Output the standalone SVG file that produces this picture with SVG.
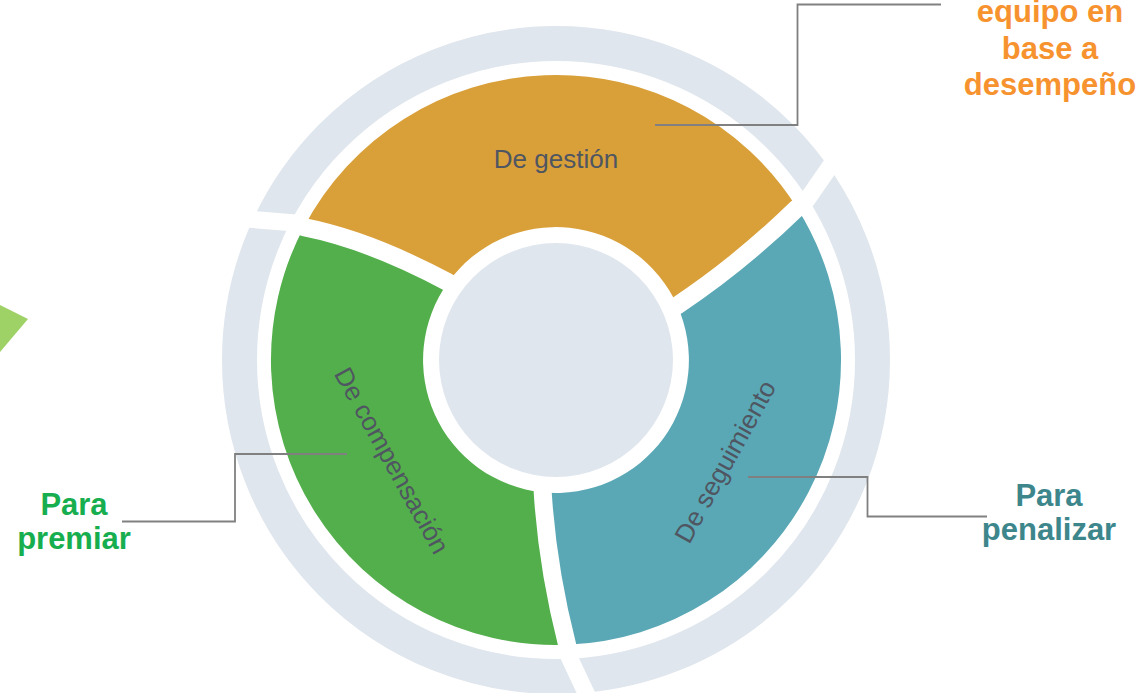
<svg xmlns="http://www.w3.org/2000/svg" xmlns:xlink="http://www.w3.org/1999/xlink" width="1136" height="693" viewBox="0 0 1136 693">
  <style>
    .segtxt { font-family: "Liberation Sans", Arial, sans-serif; font-size: 26px; fill: #4F5661; text-anchor: middle; }
    .lbl { font-family: "Liberation Sans", Arial, sans-serif; font-size: 31px; font-weight: bold; text-anchor: middle; }
    .conn { fill: none; stroke: #808080; stroke-width: 1.8; }
    .gap { fill: none; stroke: #FFFFFF; stroke-width: 18; stroke-linecap: round; }
    .rgap { fill: none; stroke: #FFFFFF; stroke-width: 17; stroke-linecap: butt; }
  </style>
  <defs>
    <line id="ringgap" x1="567.9" y1="654.5" x2="589.4" y2="700.2"/>
  </defs>
  <rect width="1136" height="693" fill="#FFFFFF"/>

  <g id="partial-shape">
    <path d="M0,305 L28,319 L0,352 Z" fill="#9FD266"/>
  </g>

  <g id="outer-ring">
    <circle cx="556" cy="360" r="316.5" fill="none" stroke="#DFE6ED" stroke-width="35"/>
    <use xlink:href="#ringgap" class="rgap"/>
    <use xlink:href="#ringgap" class="rgap" transform="rotate(120 556 360)"/>
    <use xlink:href="#ringgap" class="rgap" transform="rotate(240 556 360)"/>
  </g>

  <g id="seg-gestion">
    <path d="M303.8,227.2 A285,285 0 0 1 797.1,208 Q739.8,263.8 677.2,305.4 A133,133 0 0 0 448.1,282.3 Q369,240 303.8,227.2 Z" fill="#D9A03A"/>
    <text class="segtxt" x="556" y="168">De gestión</text>
  </g>
  <g id="seg-compensacion">
    <path d="M567.1,644.8 A285,285 0 0 1 303.8,227.2 Q369,240 448.1,282.3 A133,133 0 0 0 542.7,492.3 Q547.4,567.3 567.1,644.8 Z" fill="#53AF4B"/>
    <text class="segtxt" transform="translate(391 461) rotate(61)" x="0" y="8">De compensación</text>
  </g>
  <g id="seg-seguimiento">
    <path d="M797.1,208 A285,285 0 0 1 567.1,644.8 Q547.4,567.3 542.7,492.3 A133,133 0 0 0 677.2,305.4 Q739.8,263.8 797.1,208 Z" fill="#5AA8B5"/>
    <text class="segtxt" transform="translate(726 462) rotate(-61)" x="0" y="8">De seguimiento</text>
  </g>
  <g id="segment-gaps">
    <path class="gap" d="M303.8,227.2 Q369,240 448.1,282.3"/>
    <path class="gap" d="M797.1,208 Q739.8,263.8 677.2,305.4"/>
    <path class="gap" d="M567.1,644.8 Q547.4,567.3 542.7,492.3"/>
  </g>

  <g id="center">
    <circle cx="556" cy="360" r="117" fill="#DFE6ED"/>
  </g>

  <g id="connectors">
    <path class="conn" d="M655,125 H797.5 V4.5 H941"/>
    <path class="conn" d="M347,454 H235 V521.5 H122"/>
    <path class="conn" d="M748,477 H867.5 V516.5 H987"/>
  </g>

  <g id="label-desempeno">
    <text class="lbl" fill="#F7932F" x="1050" y="22">equipo en</text>
    <text class="lbl" fill="#F7932F" x="1050" y="58.5">base a</text>
    <text class="lbl" fill="#F7932F" x="1050" y="95">desempeño</text>
  </g>
  <g id="label-premiar">
    <text class="lbl" fill="#17AE4F" x="74" y="515">Para</text>
    <text class="lbl" fill="#17AE4F" x="74" y="549">premiar</text>
  </g>
  <g id="label-penalizar">
    <text class="lbl" fill="#3D868B" x="1049" y="506">Para</text>
    <text class="lbl" fill="#3D868B" x="1049" y="540">penalizar</text>
  </g>
</svg>
